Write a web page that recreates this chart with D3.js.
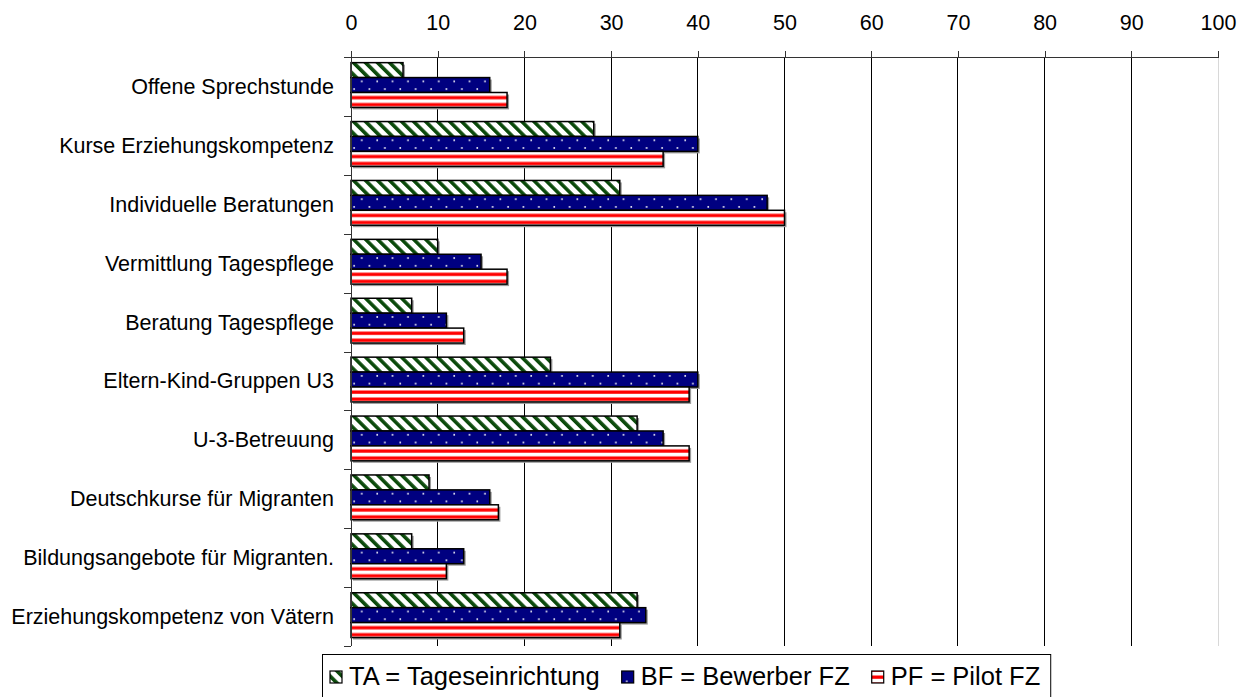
<!DOCTYPE html>
<html>
<head>
<meta charset="utf-8">
<script src="https://cdn.jsdelivr.net/npm/d3@7"></script>
<style>
  body { margin: 0; background: #fff; overflow: hidden; }
  svg text { font-family: "Liberation Sans", Arial, sans-serif; fill: #000; }
</style>
</head>
<body>
<svg id="chart"></svg>
<script>
var width = 1255;
var height = 697;

// categories, top to bottom
const categories = [
    "Offene Sprechstunde",
    "Kurse Erziehungskompetenz",
    "Individuelle Beratungen",
    "Vermittlung Tagespflege",
    "Beratung Tagespflege",
    "Eltern-Kind-Gruppen U3",
    "U-3-Betreuung",
    "Deutschkurse für Migranten",
    "Bildungsangebote für Migranten.",
    "Erziehungskompetenz von Vätern"
];
const seriesKeys = ["TA", "BF", "PF"];
const seriesLabels = ["TA = Tageseinrichtung", "BF = Bewerber FZ", "PF = Pilot FZ"];
const valuesTA = [6, 28, 31, 10, 7, 23, 33, 9, 7, 33];
const valuesBF = [16, 40, 48, 15, 11, 40, 36, 16, 13, 34];
const valuesPF = [18, 36, 50, 18, 13, 39, 39, 17, 11, 31];
const xTicks = [0, 10, 20, 30, 40, 50, 60, 70, 80, 90, 100];

const seriesValues = { TA: valuesTA, BF: valuesBF, PF: valuesPF };

const svg = d3.select("#chart")
    .attr("width", width)
    .attr("height", height);

// patterns
const defs = svg.append("defs");

const pTA = defs.append("pattern")
    .attr("id", "pat-TA")
    .attr("patternUnits", "userSpaceOnUse")
    .attr("width", 8.5).attr("height", 8.5)
    .attr("patternTransform", "rotate(-45)");
pTA.append("rect").attr("width", 8.5).attr("height", 8.5).attr("fill", "#fff");
pTA.append("rect").attr("x", 0).attr("width", 3.6).attr("height", 8.5).attr("fill", "#0b4a0b");

const pBF = defs.append("pattern")
    .attr("id", "pat-BF")
    .attr("patternUnits", "userSpaceOnUse")
    .attr("width", 15.4).attr("height", 15.4);
pBF.append("rect").attr("width", 15.4).attr("height", 15.4).attr("fill", "#000080");
pBF.append("rect").attr("x", 10).attr("y", 3).attr("width", 1.6).attr("height", 1.6).attr("fill", "#fff");
pBF.append("rect").attr("x", 2.3).attr("y", 10.7).attr("width", 1.6).attr("height", 1.6).attr("fill", "#fff");

const pPF = defs.append("pattern")
    .attr("id", "pat-PF")
    .attr("patternUnits", "userSpaceOnUse")
    .attr("width", 10).attr("height", 7);
pPF.append("rect").attr("width", 10).attr("height", 7).attr("fill", "#fff");
pPF.append("rect").attr("y", 3.5).attr("width", 10).attr("height", 3.3).attr("fill", "#ff0000");

// scales
const x = d3.scaleLinear().domain([0, 100]).range([351, 1218]);
const y0 = d3.scaleBand()
    .domain(categories)
    .range([57, 646])
    .paddingInner(0.24)
    .paddingOuter(0.12)
    .align(0.4);
const y1 = d3.scaleBand()
    .domain(seriesKeys)
    .range([0, y0.bandwidth()]);

// gridlines
svg.append("g")
    .selectAll("line")
    .data(xTicks.slice(1))
    .enter().append("line")
    .attr("x1", d => x(d)).attr("x2", d => x(d))
    .attr("y1", 57).attr("y2", 646)
    .attr("stroke", d => d === 100 ? "#d8d8d8" : "#000")
    .attr("stroke-width", 1)
    .attr("shape-rendering", "crispEdges");

// top axis
const xAxis = d3.axisTop(x)
    .tickValues(xTicks)
    .tickSize(6)
    .tickPadding(21)
    .tickFormat(d3.format("d"));
const gx = svg.append("g")
    .attr("transform", "translate(0,57)")
    .call(xAxis);
gx.select(".domain").attr("stroke", "#333").attr("shape-rendering", "crispEdges");
gx.selectAll(".tick line").attr("stroke", "#333").attr("shape-rendering", "crispEdges");
gx.selectAll("text")
    .attr("font-size", 21.5)
    .attr("font-family", "Liberation Sans, Arial, sans-serif")
    .attr("fill", "#000");

// bars
const groups = svg.append("g")
    .selectAll("g")
    .data(categories)
    .enter().append("g")
    .attr("transform", d => "translate(0," + y0(d) + ")");

const bars = groups.selectAll("g")
    .data((c, i) => seriesKeys.map(k => ({ key: k, value: seriesValues[k][i] })))
    .enter().append("g")
    .attr("transform", d => "translate(" + x(0) + "," + y1(d.key) + ")");

bars.append("rect")
    .attr("x", 2).attr("y", 2)
    .attr("width", d => x(d.value) - x(0))
    .attr("height", y1.bandwidth())
    .attr("fill", "#9a9a9a");

bars.append("rect")
    .attr("x", 0).attr("y", 0)
    .attr("width", d => x(d.value) - x(0))
    .attr("height", y1.bandwidth())
    .attr("fill", d => "url(#pat-" + d.key + ")")
    .attr("stroke", "#000")
    .attr("stroke-width", 1.5);

// left axis with ticks at band boundaries
const boundaries = d3.range(categories.length + 1).map(i => 57 + i * y0.step());
svg.append("line")
    .attr("x1", 351).attr("x2", 351)
    .attr("y1", 57).attr("y2", 646)
    .attr("stroke", "#333")
    .attr("shape-rendering", "crispEdges");
svg.append("g")
    .selectAll("line")
    .data(boundaries)
    .enter().append("line")
    .attr("x1", 344).attr("x2", 351)
    .attr("y1", d => Math.round(d) + 0.5).attr("y2", d => Math.round(d) + 0.5)
    .attr("stroke", "#333");

// category labels
svg.append("g")
    .selectAll("text")
    .data(categories)
    .enter().append("text")
    .attr("x", 334)
    .attr("y", d => 57 + (categories.indexOf(d) + 0.5) * y0.step())
    .attr("dy", "0.35em")
    .attr("text-anchor", "end")
    .attr("font-size", 21.5)
    .text(d => d);

// legend (box runs off the bottom edge like the reference)
const legend = svg.append("g");
const legendBox = legend.append("rect")
    .attr("x", 322.5).attr("y", 654.5)
    .attr("height", 50)
    .attr("fill", "#fff")
    .attr("stroke", "#000")
    .attr("stroke-width", 1);

let lx = 330;
seriesKeys.forEach(function(k, i) {
    legend.append("rect")
        .attr("x", lx).attr("y", 671)
        .attr("width", 12).attr("height", 12)
        .attr("fill", "url(#pat-" + k + ")")
        .attr("stroke", "#000")
        .attr("stroke-width", 1.2);
    const t = legend.append("text")
        .attr("x", lx + 19)
        .attr("y", 685)
        .attr("font-size", 25.5)
        .text(seriesLabels[i]);
    lx = lx + 19 + t.node().getComputedTextLength() + 22;
});
legendBox.attr("width", lx - 322 - 12);
</script>
</body>
</html>
